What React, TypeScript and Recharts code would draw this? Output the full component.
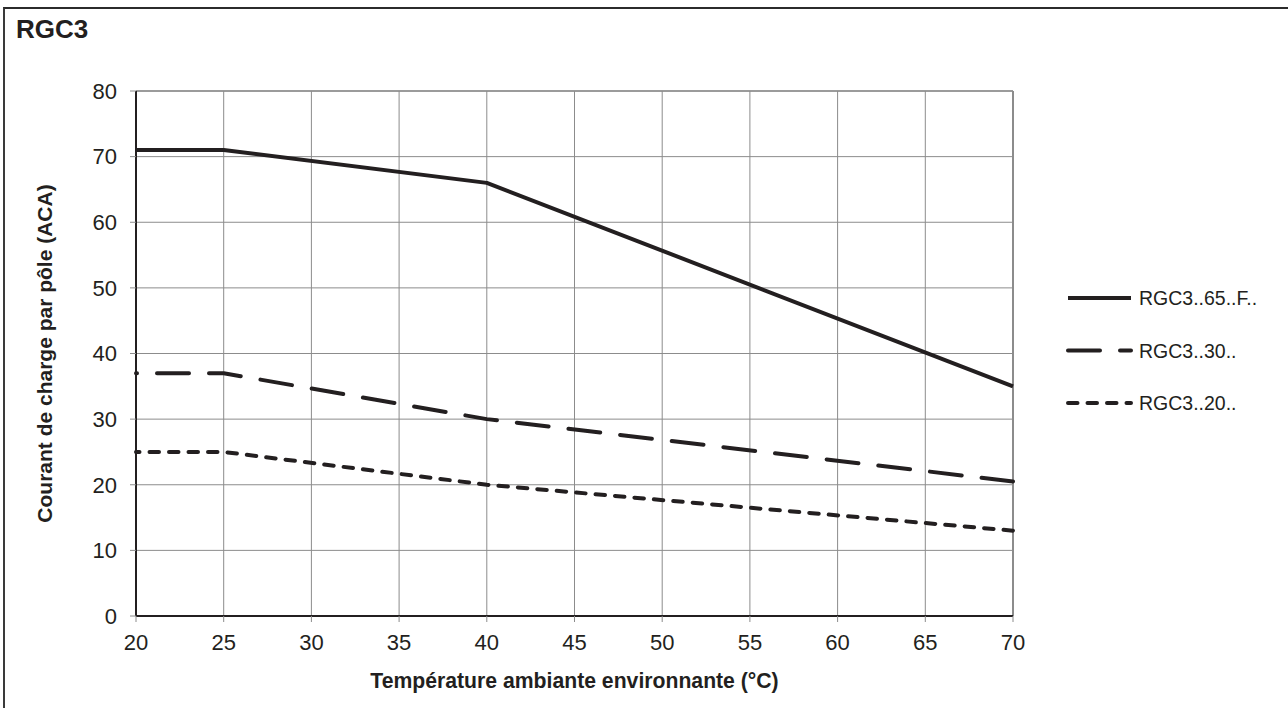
import React from "react";
import { LineChart, Line, XAxis, YAxis, CartesianGrid, Legend, ReferenceLine, Label } from "recharts";

const temps = [20, 25, 40, 70];
const rgc65 = [71, 71, 66, 35];
const rgc30 = [37, 37, 30, 20.5];
const rgc20 = [25, 25, 20, 13];

const seriesNames = ["RGC3..65..F..", "RGC3..30..", "RGC3..20.."];
const xTicks = [20, 25, 30, 35, 40, 45, 50, 55, 60, 65, 70];
const yTicks = [0, 10, 20, 30, 40, 50, 60, 70, 80];

const INK = "#231f20";
const GRID = "#8c8c8c";
const FONT = "'Liberation Sans', Arial, sans-serif";

const data = temps.map((t, i) => ({ t, a: rgc65[i], b: rgc30[i], c: rgc20[i] }));

// dash styles per series (solid, long dash, short dash)
const STYLES = [
  { key: "a", dash: undefined, offset: 0, cap: "butt" },
  { key: "b", dash: "32 20", offset: 31, cap: "round" },
  { key: "c", dash: "9.5 10", offset: 6, cap: "round" },
];

function LegendBox() {
  return (
    <svg width={230} height={160} style={{ display: "block" }}>
      {seriesNames.map((name, i) => {
        const y = 28 + i * 52.5;
        const s = STYLES[i];
        return (
          <g key={name}>
            <line
              x1={10}
              x2={73}
              y1={y}
              y2={y}
              stroke={INK}
              strokeWidth={4}
              strokeDasharray={s.dash}
              strokeLinecap={s.cap as any}
            />
            <text x={81} y={y} dy="0.36em" fontSize={19.5} fill={INK} fontFamily={FONT}>
              {name}
            </text>
          </g>
        );
      })}
    </svg>
  );
}

function YTitle(props: any) {
  const vb = props.viewBox || { x: 0, y: 0, height: 0 };
  const x = vb.x + 52;
  const y = vb.y + vb.height / 2;
  return (
    <text
      x={x}
      y={y}
      transform={`rotate(-90 ${x} ${y})`}
      textAnchor="middle"
      fontSize={21}
      fontWeight="bold"
      fill={INK}
      fontFamily={FONT}
    >
      Courant de charge par pôle (ACA)
    </text>
  );
}

function XTitle(props: any) {
  const vb = props.viewBox || { x: 0, y: 0, width: 0 };
  const x = vb.x + vb.width / 2;
  const y = vb.y + 72;
  return (
    <text x={x} y={y} textAnchor="middle" fontSize={21.2} fontWeight="bold" fill={INK} fontFamily={FONT}>
      Température ambiante environnante (°C)
    </text>
  );
}

export default function App() {
  return (
    <div
      style={{
        position: "fixed",
        left: 0,
        top: 0,
        width: 1288,
        height: 708,
        overflow: "hidden",
        background: "#fff",
        fontFamily: FONT,
      }}
    >
      <div
        style={{
          position: "absolute",
          left: 3,
          top: 7,
          width: 1400,
          height: 800,
          borderTop: "2px solid #2b2b2b",
          borderLeft: "2px solid #3a3a3a",
        }}
      />
      <div
        style={{
          position: "absolute",
          left: 16,
          top: 16,
          fontSize: 26,
          lineHeight: "26px",
          fontWeight: "bold",
          color: INK,
        }}
      >
        RGC3
      </div>
      <div style={{ position: "absolute", left: 0, top: 0 }}>
        <LineChart width={1288} height={708} data={data} margin={{ top: 91, right: 275, bottom: 52, left: 0 }}>
          <CartesianGrid stroke={GRID} strokeWidth={1} />
          <XAxis
            dataKey="t"
            type="number"
            domain={[20, 70]}
            ticks={xTicks}
            height={40}
            tickSize={6}
            tickMargin={12}
            axisLine={{ stroke: INK, strokeWidth: 2 }}
            tickLine={{ stroke: GRID }}
            tick={{ fill: INK, fontSize: 22, fontFamily: FONT }}
          >
            <Label content={<XTitle />} />
          </XAxis>
          <YAxis
            type="number"
            domain={[0, 80]}
            ticks={yTicks}
            width={136}
            tickSize={6}
            tickMargin={13}
            axisLine={{ stroke: INK, strokeWidth: 2 }}
            tickLine={{ stroke: GRID }}
            tick={{ fill: INK, fontSize: 22, fontFamily: FONT }}
          >
            <Label content={<YTitle />} />
          </YAxis>
          <ReferenceLine x={70} stroke={GRID} strokeWidth={2} />
          <ReferenceLine y={80} stroke={GRID} strokeWidth={1.5} />
          {STYLES.map((s, i) => (
            <Line
              key={s.key}
              dataKey={s.key}
              name={seriesNames[i]}
              stroke={INK}
              strokeWidth={4}
              strokeDasharray={s.dash}
              strokeDashoffset={s.offset}
              strokeLinecap={s.cap as any}
              strokeLinejoin="round"
              dot={false}
              activeDot={false}
              isAnimationActive={false}
            />
          ))}
          <Legend
            layout="horizontal"
            verticalAlign="middle"
            align="center"
            content={() => <LegendBox />}
            wrapperStyle={{ left: 1058, top: 270, width: 230, height: 160 }}
          />
        </LineChart>
      </div>
    </div>
  );
}
